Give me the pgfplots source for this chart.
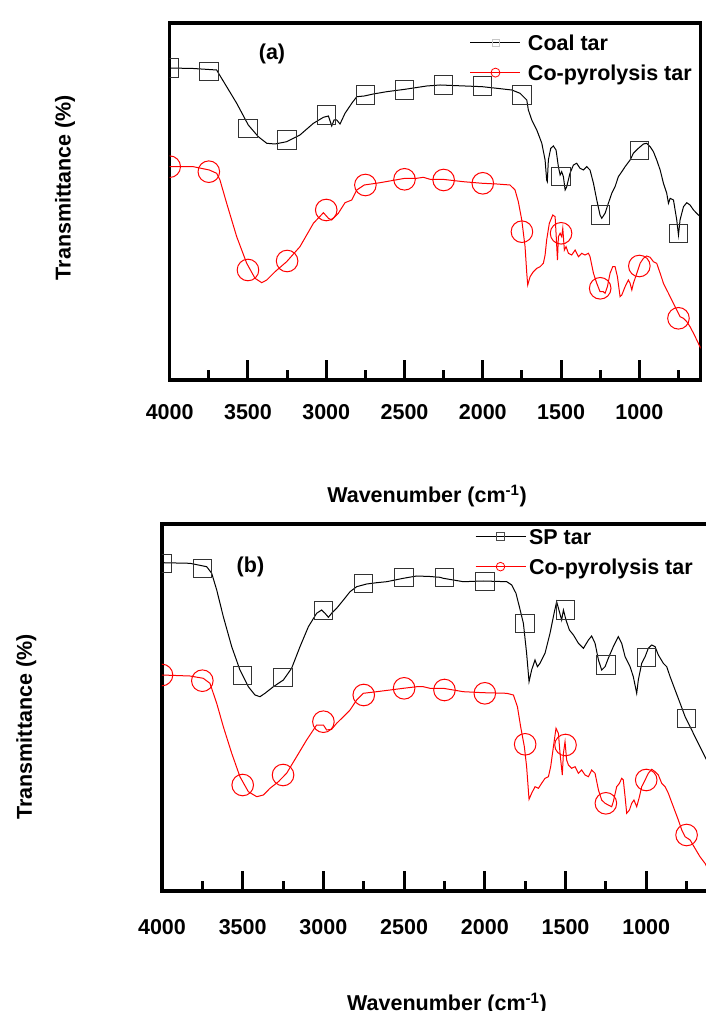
\documentclass[border=0pt]{standalone}
\usepackage{pgfplots}
\pgfplotsset{compat=1.18}
\usepackage{fontspec}
\setmainfont{Liberation Sans}
\newcommand{\bigfont}{\fontsize{21.5}{24}\selectfont\bfseries}
\pgfplotsset{
  ftir/.style={
    scale only axis,
    x dir=reverse, y dir=reverse,
    xmin=608, xmax=4000,
    xtick={1000,1500,2000,2500,3000,3500,4000},
    minor xtick={750,1250,1750,2250,2750,3250,3750},
    ytick=\empty,
    xtick pos=left,
    tick align=inside,
    major tick length=20pt,
    minor tick length=10pt,
    every tick/.append style={black, line width=3pt},
    axis line style={line width=3.2pt},
    scaled x ticks=false,
    /pgf/number format/assume math mode=true,
    /pgf/number format/1000 sep={},
    tick label style={font=\bigfont},
    label style={font=\bigfont},
    clip marker paths=true,
    legend cell align=left,
    legend style={draw=none, fill=none, inner sep=0pt, outer sep=0pt,
      row sep=10pt, column sep=7pt, font=\bigfont,
      nodes={inner sep=0pt, text height=15pt, text depth=5pt}},
    legend image code/.code={
      \draw[##1] (0pt,2.5pt) -- (50pt,2.5pt);
      \draw[##1] plot coordinates {(25pt,2.5pt)};},
  },
  blk/.style={black, line width=1pt, mark=none},
  redl/.style={red, line width=1pt, mark=none},
  sqm/.style={only marks, mark=square, mark size=9.2pt, mark options={draw=black!80, line width=1pt, fill=none}},
  circm/.style={only marks, mark=o, mark size=10.8pt, mark options={draw=red, line width=1pt, fill=none}},
}
\begin{document}
\begin{tikzpicture}
% ---------------- Panel (a)
\begin{axis}[ftir,
  at={(169.7pt,631pt)}, anchor=south west,
  width=531pt, height=357pt,
  ymin=23, ymax=380,
  xticklabel style={yshift=-21pt},
  xlabel={Wavenumber (cm\textsuperscript{-1})},
  xlabel style={at={(axis description cs:0.4846,-0.325)}, anchor=center},
  ylabel={Transmittance (\%)},
  ylabel style={at={(axis description cs:-0.197,0.539)}, anchor=center},
  legend style={at={(axis description cs:0.5655,0.966)}, anchor=north west},
]
\addlegendimage{black, line width=1pt, mark=square, mark size=3.5pt, mark options={draw=gray!45, line width=0.8pt}}
\addlegendentry{Coal tar}
\addlegendimage{red, line width=1pt, mark=o, mark size=4.5pt, mark options={draw=red, line width=0.8pt}}
\addlegendentry{Co-pyrolysis tar}
\addplot[blk, forget plot] coordinates {
(4000,68) (3850,68.5) (3750,69.5) (3700,70) (3689,73) (3636,86.7) (3572,103.3) (3498,125)
(3434,136.7) (3380,143.3) (3327,144) (3253,141.7) (3168,135) (3082,123.3) (3018,117.3)
(2986,116) (2965,126) (2950,120) (2933,120) (2912,124) (2880,113.3) (2837,103.3) (2805,96.7)
(2757,96) (2699,94) (2614,91.7) (2497,89.3) (2358,86) (2273,85) (2003,86.7) (1911,88.3)
(1815,90) (1762,93.3) (1719,100) (1709,110) (1687,120) (1655,130) (1623,143.3) (1602,160)
(1592,180) (1588,181.7) (1581,160) (1566,148.3) (1549,146) (1532,150) (1517,166.7) (1506,175)
(1496,171.7) (1485,176.7) (1474,190) (1464,186.7) (1443,173.3) (1421,165) (1400,163.3)
(1379,168.3) (1357,170) (1336,166.7) (1315,170) (1293,183.3) (1272,200) (1251,215) (1240,218.3)
(1219,213.3) (1198,203.3) (1176,193.3) (1155,186.7) (1134,176.7) (1112,171.7) (1091,166.7)
(1059,160) (1038,153.3) (1006,148.3) (974,144) (953,143.3) (931,146.7) (910,151.7) (889,160)
(867,170) (846,183.3) (825,193.3) (814,203.3) (803,198.3) (782,200) (761,220) (750,235)
(740,220) (718,206.7) (697,202.7) (676,205) (654,210) (623,215) (608,216.7)
};
\addplot[sqm, forget plot] coordinates {
(4000,68) (3750,71.7) (3500,128.3) (3250,140) (3000,115) (2750,95) (2500,90) (2250,85)
(2000,86) (1750,95) (1500,176.7) (1250,215) (1000,150.7) (750,233.3)
};
\addplot[redl, forget plot] coordinates {
(4000,166.7) (3849,166.7) (3747,170) (3700,173.3) (3679,180) (3636,203.3) (3572,236.7)
(3508,263.3) (3455,278.3) (3412,282.7) (3380,280) (3327,271.7) (3253,261.7) (3168,246.7)
(3082,223.3) (3018,212.7) (2986,218.3) (2965,220) (2944,216.7) (2923,213.3) (2880,202.7)
(2837,200) (2805,190) (2757,185) (2656,182.7) (2497,178.3) (2422,178.3) (2380,177.3)
(2337,179.3) (2257,179.3) (2124,181.7) (2003,183.3) (1911,184) (1826,185) (1794,190)
(1773,201.7) (1751,220) (1730,246.7) (1719,273.3) (1713,285) (1698,276.7) (1677,271.7)
(1655,268.3) (1634,266.7) (1613,263.3) (1602,255) (1592,240) (1575,223.3) (1553,215)
(1538,216.7) (1532,233.3) (1523,260) (1517,236.7) (1506,233.3) (1496,236.7) (1489,228.3)
(1479,250) (1468,246.7) (1453,253.3) (1432,255) (1410,250) (1389,256.7) (1368,253.3)
(1347,255) (1325,253.3) (1315,256.7) (1293,273.3) (1272,283.3) (1251,291.7) (1230,291.7)
(1219,293.3) (1204,286.7) (1187,273.3) (1170,266.7) (1155,266.7) (1140,276.7) (1123,296.7)
(1112,295) (1091,286.7) (1070,280) (1059,283.3) (1048,290) (1038,283.3) (1016,273.3)
(995,263.3) (974,258.3) (953,256) (931,257.3) (910,261.7) (889,263.3) (867,273.3)
(846,283.3) (814,293.3) (793,300) (761,310) (740,316.7) (718,318.3) (697,321.7) (676,326.7)
(654,333.3) (633,340) (608,348.3)
};
\addplot[circm, forget plot] coordinates {
(4000,166.7) (3750,171.7) (3500,270) (3250,261) (3000,210) (2750,185) (2500,179.3) (2250,180)
(2000,183.3) (1750,231.7) (1500,233.3) (1250,288.3) (1000,266) (750,318.3)
};
\node[font=\bigfont] at (axis description cs:0.1927,0.9146) {(a)};
\end{axis}
% ---------------- Panel (b)
\begin{axis}[ftir,
  at={(162pt,120pt)}, anchor=south west,
  width=547.5pt, height=367pt,
  ymin=524, ymax=891,
  xticklabel style={yshift=-25pt},
  xlabel={Wavenumber (cm\textsuperscript{-1})},
  xlabel style={at={(axis description cs:0.5205,-0.308)}, anchor=center},
  ylabel={Transmittance (\%)},
  ylabel style={at={(axis description cs:-0.248,0.447)}, anchor=center},
  legend style={at={(axis description cs:0.5717,0.986)}, anchor=north west, column sep=3pt},
]
\addlegendimage{black, line width=1pt, mark=square, mark size=4pt, mark options={draw=black!70, line width=0.8pt}}
\addlegendentry{SP tar}
\addlegendimage{red, line width=1pt, mark=o, mark size=4.3pt, mark options={draw=red, line width=0.8pt}}
\addlegendentry{Co-pyrolysis tar}
\addplot[blk, forget plot] coordinates {
(4000,562.7) (3827,563.3) (3723,566.7) (3692,573.3) (3661,590) (3620,616.7) (3568,646.7)
(3517,670) (3465,686.7) (3424,695) (3393,696.7) (3362,693.3) (3310,686.7) (3248,680)
(3197,668.3) (3145,646.7) (3093,626.7) (3042,613.3) (3011,610) (2990,613.3) (2969,617.3)
(2949,613.3) (2918,608.3) (2876,600) (2835,591.7) (2794,586.7) (2732,584) (2670,582.7)
(2608,581.7) (2505,578.3) (2422,576) (2340,576.5) (2278,577.3) (2257,578.3) (2133,581.7)
(2009,581) (1864,581.7) (1833,585) (1807,593.3) (1786,606.7) (1761,623.3) (1741,653.3)
(1726,681.7) (1710,670) (1689,660) (1674,666.7) (1658,663.3) (1627,653.3) (1596,633.3)
(1571,613.3) (1555,601.7) (1538,611.7) (1524,620) (1513,610) (1497,620) (1476,630)
(1451,635) (1420,643.3) (1389,648.3) (1358,640) (1338,636) (1317,643.3) (1296,660)
(1276,670) (1255,666.7) (1235,658.3) (1204,646.7) (1173,636.7) (1152,643.3) (1131,656.7)
(1100,666.7) (1080,676.7) (1059,693.3) (1049,680) (1028,663.3) (1007,656.7) (987,648.3)
(966,645) (945,646.7) (925,655) (894,663.3) (873,666.7) (852,676.7) (821,690) (790,703.3)
(759,716.7) (728,726.7) (698,736.7) (667,746.7) (636,756.7) (608,766)
};
\addplot[sqm, forget plot] coordinates {
(4000,563.3) (3750,568.3) (3500,675.7) (3250,677.7) (3000,610.7) (2750,583.3) (2500,577.3)
(2250,577.3) (2000,581.7) (1750,623.3) (1500,610) (1250,665) (1000,657.3) (750,718.3)
};
\addplot[redl, forget plot] coordinates {
(4000,675) (3827,676) (3744,678.3) (3703,683.3) (3661,703.3) (3620,726.7) (3568,753.3)
(3517,776.7) (3465,791.7) (3413,796.7) (3372,795) (3331,788.3) (3279,781.7) (3228,773.3)
(3166,756.7) (3104,740) (3042,725) (3000,725) (2980,730) (2949,729.3) (2918,723.3)
(2876,716.7) (2835,710) (2794,700) (2753,693.3) (2670,691.7) (2587,690) (2505,688.3)
(2422,686.7) (2381,686.7) (2340,688.3) (2257,688.3) (2133,691.7) (2009,692.7) (1864,693.3)
(1823,695) (1798,706.7) (1778,726.7) (1755,746.7) (1741,766.7) (1726,799.3) (1710,793.3)
(1689,786.7) (1668,788.3) (1648,783.3) (1627,778.3) (1606,776.7) (1592,766.7) (1575,746.7)
(1559,728.3) (1544,733.3) (1534,753.3) (1520,775) (1513,753.3) (1503,741.7) (1493,760)
(1482,765) (1462,768.3) (1441,766.7) (1420,773.3) (1400,770) (1379,775) (1358,776.7)
(1338,770) (1317,773.3) (1296,790) (1276,800) (1255,803.3) (1235,805) (1214,806.7)
(1204,801.7) (1183,786.7) (1166,783.3) (1152,778.3) (1142,780) (1131,796.7) (1121,813.3)
(1104,810) (1090,803.3) (1076,800) (1059,806.7) (1042,796.7) (1028,786.7) (1007,780)
(987,773.3) (966,769.3) (945,771.7) (925,775) (904,783.3) (883,786.7) (863,793.3)
(832,806.7) (801,820) (780,830) (759,836.7) (728,840) (698,848.3) (667,856.7) (636,863.3)
(608,872)
};
\addplot[circm, forget plot] coordinates {
(4000,675) (3750,680.7) (3500,785) (3250,775) (3000,721.7) (2750,695) (2500,688.3)
(2250,690) (2000,693.3) (1750,744.3) (1500,745) (1250,803.3) (1000,780) (750,835)
};
\node[font=\bigfont] at (axis description cs:0.1616,0.884) {(b)};
\end{axis}
\pgfresetboundingbox
\useasboundingbox (0pt,0pt) rectangle (705pt,1011pt);
\end{tikzpicture}
\end{document}
